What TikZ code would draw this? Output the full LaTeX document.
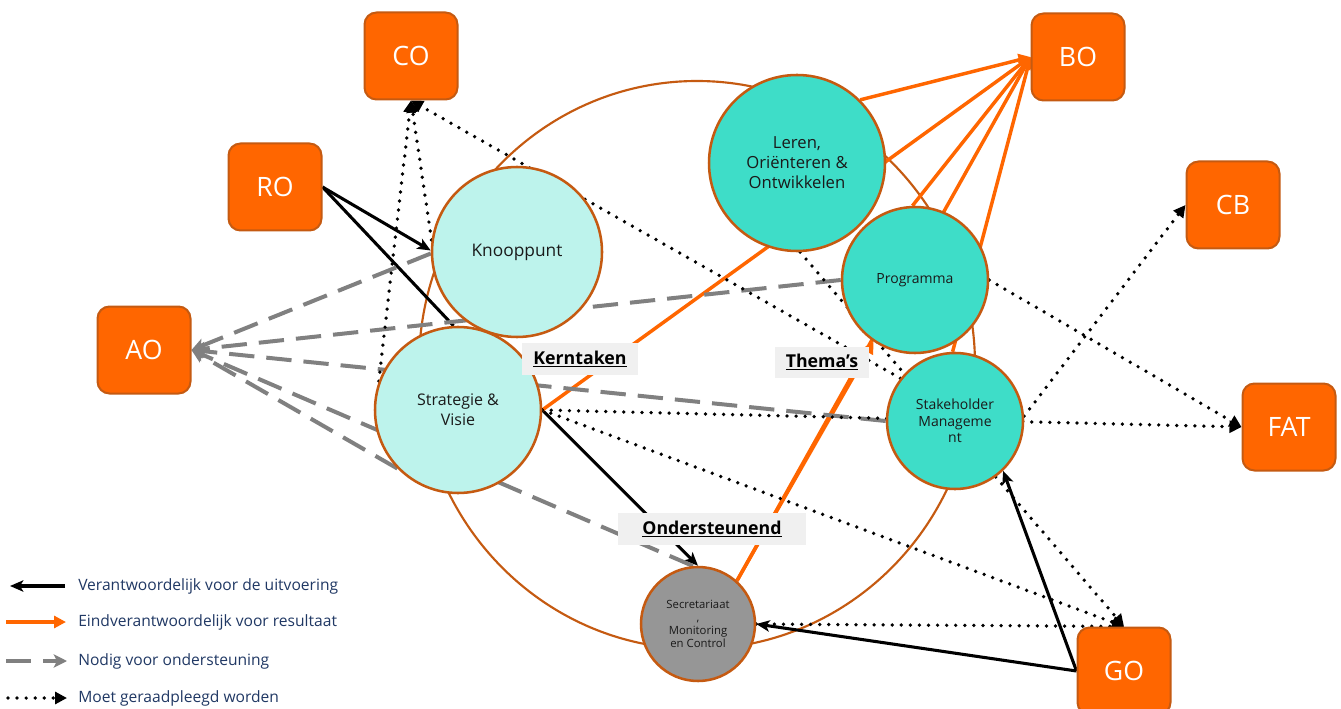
\documentclass[tikz,border=0pt]{standalone}
\usepackage{fontspec}
\setmainfont{Open Sans}
\usetikzlibrary{arrows.meta}

\pgfdeclarelayer{ring}
\pgfdeclarelayer{links}
\pgfsetlayers{ring,links,main}

\definecolor{boxorange}{HTML}{FF6600}
\definecolor{rim}{HTML}{C55A11}
\definecolor{paleteal}{HTML}{BDF3EC}
\definecolor{deepteal}{HTML}{3EDDC8}
\definecolor{secgray}{HTML}{969696}
\definecolor{tagfill}{HTML}{F0F0F0}
\definecolor{legendtext}{HTML}{203864}
\definecolor{dashgray}{HTML}{808080}
\definecolor{inktext}{HTML}{1A1A1A}

\tikzset{
  unit/.style={draw=rim, line width=1.5pt, fill=boxorange, rounded corners=9pt,
    minimum width=69.75pt, minimum height=65.25pt, inner sep=0pt, text=white,
    font=\fontsize{20}{24}\selectfont},
  role/.style={circle, draw=rim, line width=1.9pt, inner sep=0pt, align=center, text=inktext},
  tag/.style={fill=tagfill, inner sep=0pt, text=black,
    font=\fontsize{13.3}{15}\bfseries\selectfont},
  resp/.style={black, line width=2.3pt, -{Stealth[length=10pt,width=8.5pt,inset=2.5pt]}},
  respline/.style={black, line width=2.3pt},
  final/.style={boxorange, line width=2.6pt, -{Triangle[length=9pt,width=9pt]}},
  finalline/.style={boxorange, line width=2.6pt},
  support/.style={dashgray, line width=3pt, dash pattern=on 19pt off 9pt,
    -{Stealth[length=10pt,width=10pt,inset=2.5pt]}},
  consult/.style={black, line width=2.8pt, line cap=round, dash pattern=on 0pt off 6.8pt,
    -{Triangle[length=9pt,width=9pt]}},
  consultline/.style={black, line width=2.8pt, line cap=round, dash pattern=on 0pt off 6.8pt},
  legendlabel/.style={anchor=west, inner sep=0pt, text=legendtext,
    font=\fontsize{11.7}{14}\selectfont}
}

\begin{document}
\begin{tikzpicture}[x=0.75pt, y=-0.75pt]
\useasboundingbox (0,0) rectangle (1341,709);

% page and the large ring around the roles
\begin{pgfonlayer}{ring}
  \fill[white] (0,0) rectangle (1341,709);
  \draw[rim, line width=1.6pt] (697,365) ellipse [x radius=208.5pt, y radius=213pt];
\end{pgfonlayer}

% organisational units
\node[unit] (co)  at (411,56)  {CO};
\node[unit] (bo)  at (1078,57) {BO};
\node[unit] (ro)  at (275,187) {RO};
\node[unit] (ao)  at (144,350) {AO};
\node[unit] (cb)  at (1233,205) {CB};
\node[unit] (fat) at (1289,427) {FAT};
\node[unit] (go)  at (1124,671) {GO};

% roles
\node[role, fill=paleteal, minimum size=127.5pt, font=\fontsize{13}{16}\selectfont]
  (k) at (517,252) {Knooppunt};
\node[role, fill=paleteal, minimum size=124.5pt, font=\fontsize{12}{15}\selectfont]
  (s) at (458,410) {Strategie \&\\Visie};
\node[role, fill=deepteal, minimum size=132pt, font=\fontsize{12.5}{15}\selectfont]
  (l) at (797,163) {Leren,\\Oriënteren \&\\Ontwikkelen};
\node[role, fill=deepteal, minimum size=109.5pt, font=\fontsize{10.5}{13}\selectfont]
  (p) at (915,280) {Programma};
\node[role, fill=deepteal, minimum size=102pt, font=\fontsize{10.5}{12.3}\selectfont]
  (st) at (955,421) {Stakeholder\\Manageme\\nt};
\node[role, fill=secgray, minimum size=85.5pt, font=\fontsize{8.5}{9.6}\selectfont]
  (sec) at (698,624) {Secretariaat\\,\\Monitoring\\en Control};

% group labels
\node[tag, minimum width=87pt, minimum height=24pt] (kern) at (580,359) {\underline{Kerntaken}};
\node[tag, minimum width=70.5pt, minimum height=23.25pt] (them) at (822,362) {\underline{Thema’s}};
\node[tag, minimum width=141pt, minimum height=24pt] (onder) at (712,529) {\underline{Ondersteunend}};

\begin{pgfonlayer}{links}
  % responsible for execution
  \draw[resp] (ro.east) -- (k.179);
  \draw[respline] (ro.east) -- (s.93);
  \draw[resp] (s.east) -- (sec.north);
  \draw[resp] (go.west) -- (st.-46);
  \draw[resp] (go.west) -- (sec.east);

  % accountable for the result
  \draw[final] (l.45) -- (bo.west);
  \draw[final] (s.east) -- (bo.west);
  \draw[final] (p.92) -- (bo.west);
  \draw[final] (sec.48) -- (bo.west);
  \draw[final] (sec.48) -- (p.236);
  \draw[final] (st.92) -- (bo.west);

  % needed for support
  \draw[support] (k.181) -- (ao.east);
  \draw[support] (p.180) -- (ao.east);
  \draw[support] (st.180) -- (ao.east);
  \draw[support] (sec.95) -- (ao.east);
  \draw[support] (s.224) -- (ao.east);

  % must be consulted
  \draw[consult] (s.160) -- (co.south);
  \draw[consult] (k.172) -- (co.south);
  \draw[consult] (st.142) -- (co.south);
  \draw[consultline] (l.-88) -- (st.137);
  \draw[consult] (s.east) -- (fat.west);
  \draw[consult] (s.east) -- (go.north);
  \draw[consult] (p.0) -- (fat.west);
  \draw[consult] (st.4) -- (cb.west);
  \draw[consult] (st.-54) -- (go.north);
  \draw[consult] (sec.east) -- (go.north);
\end{pgfonlayer}

% legend
\coordinate (la1) at (65,586);  \coordinate (lb1) at (10,586);
\coordinate (la2) at (6,622);   \coordinate (lb2) at (66,622);
\coordinate (la3) at (6,661);   \coordinate (lb3) at (67,661);
\coordinate (la4) at (8,698);   \coordinate (lb4) at (67,698);
\draw[resp] (la1) -- (lb1);
\draw[final] (la2) -- (lb2);
\draw[support] (la3) -- (lb3);
\draw[consult] (la4) -- (lb4);
\node[legendlabel] (t1) at (78,586) {Verantwoordelijk voor de uitvoering};
\node[legendlabel] (t2) at (78,622) {Eindverantwoordelijk voor resultaat};
\node[legendlabel] (t3) at (78,661) {Nodig voor ondersteuning};
\node[legendlabel] (t4) at (78,698) {Moet geraadpleegd worden};
\end{tikzpicture}
\end{document}
